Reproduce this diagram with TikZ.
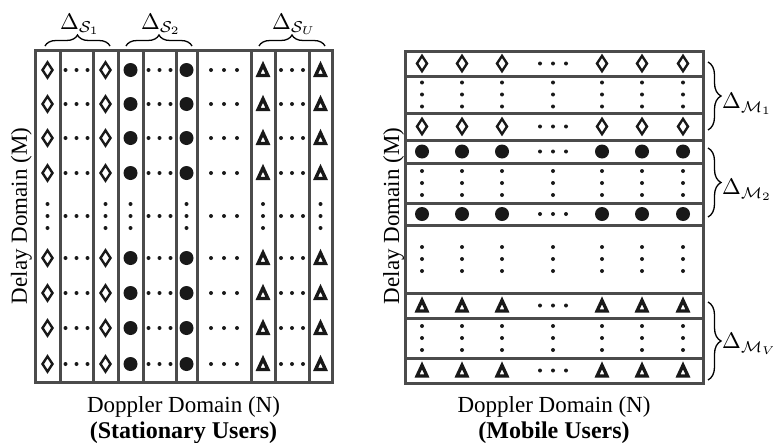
\documentclass[tikz,border=0pt]{standalone}
\usepackage{fontspec}
\setmainfont{Liberation Serif}
\usetikzlibrary{decorations.pathreplacing}
\definecolor{gridc}{RGB}{75,75,75}
\definecolor{symc}{RGB}{25,25,25}
\newcommand{\biglabel}[1]{\scalebox{2.25}{$#1$}}
\begin{document}
\begin{tikzpicture}[x=1pt,y=-1pt,
  gridline/.style={draw=gridc,line width=3pt},
  dmd/.pic={\draw[symc,line width=2.4pt,line join=miter] (0,-7.6) -- (5,0) -- (0,7.6) -- (-5,0) -- cycle;},
  blt/.pic={\fill[symc] (0,0) circle (7);},
  tri/.pic={\draw[symc,line width=3.3pt,line join=miter] (0,-5.2) -- (4.9,5.4) -- (-4.9,5.4) -- cycle;},
  hd/.pic={\foreach \d in {-11,0,11}{\fill[symc] (\d,0) circle (2);}},
  hdw/.pic={\foreach \d in {-13,0,13}{\fill[symc] (\d,0) circle (2);}},
  vd/.pic={\foreach \d in {-12,0,12}{\fill[symc] (0,\d) circle (2);}},
  bracestyle/.style={draw=black,line width=1.3pt,decorate},
  axislabel/.style={font=\fontsize{23}{26}\selectfont},
  titlelabel/.style={font=\fontsize{24}{28}\selectfont\bfseries},
  dlabel/.style={inner sep=0pt}
]
\useasboundingbox (0,0) rectangle (773,442);

% ---------------- Left grid (stationary users)
\draw[gridline] (35,50) rectangle (332,382);
\foreach \x in {60,93,118,143,176,197,251,275,309}{\draw[gridline] (\x,50) -- (\x,382);}
\foreach \y in {70,104,138,173,258,293,328,364}{
  \pic at (47.5,\y) {dmd};
  \pic at (76.5,\y) {hd};
  \pic at (105.5,\y) {dmd};
  \pic at (130.5,\y) {blt};
  \pic at (159.5,\y) {hd};
  \pic at (186.5,\y) {blt};
  \pic at (224,\y) {hdw};
  \pic at (263,\y) {tri};
  \pic at (292,\y) {hd};
  \pic at (320.5,\y) {tri};
}
\foreach \x in {47.5,105.5,130.5,186.5,263,320.5}{\pic at (\x,216) {vd};}
\pic at (76.5,216) {hd};
\pic at (159.5,216) {hd};
\pic at (224,216) {hdw};
\pic at (292,216) {hd};

% braces on top
\coordinate (s1a) at (45,46); \coordinate (s1b) at (110,46);
\coordinate (s2a) at (126,46); \coordinate (s2b) at (192,46);
\coordinate (sua) at (259,46); \coordinate (sub) at (325,46);
\draw[bracestyle,decoration={brace,amplitude=11pt}] (s1a) -- (s1b);
\draw[bracestyle,decoration={brace,amplitude=11pt}] (s2a) -- (s2b);
\draw[bracestyle,decoration={brace,amplitude=11pt}] (sua) -- (sub);
\node[dlabel,anchor=south] (ls1) at (80,35) {\biglabel{\Delta_{\mathcal{S}_1}}};
\node[dlabel,anchor=south] (ls2) at (161,35) {\biglabel{\Delta_{\mathcal{S}_2}}};
\node[dlabel,anchor=south] (lsu) at (294,35) {\biglabel{\Delta_{\mathcal{S}_U}}};

\node[axislabel,rotate=90,anchor=base] (delL) at (27,216) {Delay Domain (M)};
\node[axislabel,anchor=base] (dopL) at (183.5,412) {Doppler Domain (N)};
\node[titlelabel,anchor=base] (titL) at (183.5,438) {(Stationary Users)};

% ---------------- Right grid (mobile users)
\draw[gridline] (405,51) rectangle (703,383);
\foreach \y in {76,113,140,163,203,225,293,318,358}{\draw[gridline] (405,\y) -- (703,\y);}
\foreach \x in {422,462,502,602,642,683}{
  \pic at (\x,63.5) {dmd};
  \pic at (\x,126.5) {dmd};
  \pic at (\x,151.5) {blt};
  \pic at (\x,214) {blt};
  \pic at (\x,305.5) {tri};
  \pic at (\x,370.5) {tri};
}
\foreach \y in {63.5,126.5,151.5,214,305.5,370.5}{\pic at (553,\y) {hdw};}
\foreach \x in {422,462,502,553,602,642,683}{
  \pic at (\x,94.5) {vd};
  \pic at (\x,183) {vd};
  \pic at (\x,259) {vd};
  \pic at (\x,338) {vd};
}

% braces on right
\coordinate (m1a) at (708,62); \coordinate (m1b) at (708,130);
\coordinate (m2a) at (708,148); \coordinate (m2b) at (708,217);
\coordinate (mva) at (708,302); \coordinate (mvb) at (708,380);
\draw[bracestyle,decoration={brace,amplitude=13pt}] (m1a) -- (m1b);
\draw[bracestyle,decoration={brace,amplitude=13pt}] (m2a) -- (m2b);
\draw[bracestyle,decoration={brace,amplitude=13pt}] (mva) -- (mvb);
\node[dlabel,anchor=west] (lm1) at (722,104) {\biglabel{\Delta_{\mathcal{M}_1}}};
\node[dlabel,anchor=west] (lm2) at (722,190) {\biglabel{\Delta_{\mathcal{M}_2}}};
\node[dlabel,anchor=west] (lmv) at (722,344) {\biglabel{\Delta_{\mathcal{M}_V}}};

\node[axislabel,rotate=90,anchor=base] (delR) at (399,216) {Delay Domain (M)};
\node[axislabel,anchor=base] (dopR) at (554,412) {Doppler Domain (N)};
\node[titlelabel,anchor=base] (titR) at (554,438) {(Mobile Users)};
\end{tikzpicture}
\end{document}
